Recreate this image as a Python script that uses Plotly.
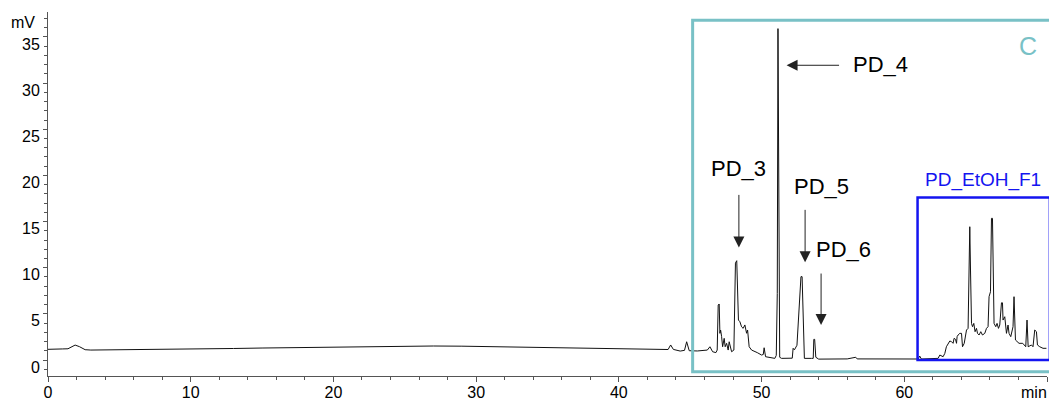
import plotly.graph_objects as go

# ---- data ----
time_min = [
    0.0, 0.5, 1.0, 1.4, 1.7, 1.9, 2.2, 2.6, 3.0, 5.0, 7.0, 9.0, 11.0, 13.0, 15.0,
    17.0, 19.0, 21.0, 23.0, 25.0, 27.0, 29.0, 31.0, 33.0, 35.0, 37.0, 39.0, 41.0,
    42.5, 43.45, 43.63, 43.82, 44.3, 44.6, 44.75, 44.93, 45.5, 46.2, 46.38, 46.57,
    46.8, 46.89, 46.96, 47.03, 47.08, 47.13, 47.2, 47.27, 47.38, 47.45, 47.55,
    47.66, 47.73, 47.9, 48.06, 48.1, 48.17, 48.26, 48.33, 48.38, 48.48, 48.6,
    48.71, 48.83, 48.95, 49.02, 49.13, 49.3, 49.7, 50.0, 50.12, 50.18, 50.28,
    50.6, 50.93, 51.03, 51.05, 51.1, 51.15, 51.17, 51.22, 51.27, 51.4, 52.0,
    52.15, 52.21, 52.3, 52.48, 52.58, 52.7, 52.76, 52.84, 52.89, 52.94, 53.0,
    53.5, 53.62, 53.66, 53.72, 53.8, 54.0, 56.0, 56.6, 56.7, 58.5, 60.97, 61.08,
    61.2, 62.37, 62.49, 62.72, 62.84, 62.95, 63.07, 63.19, 63.31, 63.42, 63.49,
    63.59, 63.66, 63.70, 63.77, 63.89, 64.01, 64.08, 64.2, 64.36, 64.47, 64.54,
    64.59, 64.64, 64.71, 64.78, 64.87, 64.96, 65.06, 65.13, 65.24, 65.36, 65.48,
    65.64, 65.76, 65.87, 65.94, 66.04, 66.11, 66.18, 66.22, 66.29, 66.41, 66.50,
    66.60, 66.69, 66.81, 66.88, 66.92, 67.04, 67.16, 67.27, 67.34, 67.46, 67.62,
    67.69, 67.79, 67.90, 68.04, 68.3, 68.44, 68.51, 68.60, 68.68, 68.91, 69.02,
    69.14, 69.26, 69.33, 69.49, 69.72, 69.96,
]
signal_mv = [
    1.16, 1.14, 1.2, 1.22, 1.45, 1.62, 1.45, 1.12, 1.08, 1.1, 1.12, 1.15, 1.2, 1.25, 1.3,
    1.35, 1.4, 1.45, 1.5, 1.52, 1.52, 1.5, 1.46, 1.4, 1.34, 1.28, 1.22, 1.18,
    1.15, 1.14, 1.63, 1.15, 0.97, 1.05, 1.98, 1.01, 0.98, 1.08, 1.44, 0.9,
    0.8, 1.08, 5.96, 6.07, 2.89, 3.25, 2.53, 1.44, 2.35, 1.44, 1.81,
    1.08, 1.98, 0.9, 1.08, 4.5, 10.5, 10.76, 7.6, 4.33, 4.15, 3.6,
    3.43, 3.8, 2.9, 3.25, 1.44, 1.08, 0.8, 0.54, 0.6, 1.33, 0.36,
    0.25, 0.18, 0.5, 6.0, 7.2, 35.9, 29.4, 3.0, 0.3, 0.18, 0.18,
    0.2, 1.27, 1.1, 1.6, 4.3, 7.9, 9.03, 9.03, 6.5, 2.89, 0.18,
    0.18, 0.18, 2.24, 2.24, 0.3, 0.1, 0.12, 0.3, 0.12, 0.12, 0.11, 0.43,
    0.11, 0.18, 0.54, 0.36, 0.72, 1.44, 1.81, 2.06, 1.99, 1.81, 2.35,
    2.24, 1.81, 2.53, 2.71, 2.89, 2.89, 1.44, 1.81, 3.25, 3.43, 12.28,
    14.44, 9.75, 3.97, 3.61, 3.97, 3.07, 3.43, 2.89, 2.71, 3.07, 2.71,
    2.89, 3.43, 3.61, 6.86, 7.4, 15.35, 15.35, 9.39, 3.97, 3.61, 3.97,
    3.43, 3.79, 6.2, 6.2, 4.33, 4.69, 2.89, 3.79, 2.89, 2.53, 3.61,
    6.86, 2.17, 1.99, 1.81, 1.81, 1.63, 1.44, 4.33, 1.44, 1.63, 1.44,
    3.25, 3.07, 1.63, 1.44, 1.27, 1.27,
]

x_tick_vals = [0, 10, 20, 30, 40, 50, 60, 70]
x_tick_text = ["0", "10", "20", "30", "40", "50", "60", ""]
x_unit_label = "min"
y_tick_vals = [0, 5, 10, 15, 20, 25, 30, 35]

peak_labels = ["PD_3", "PD_4", "PD_5", "PD_6"]
peak_label_pos = [(48.36, 20.8), (58.33, 32.0), (54.19, 18.8), (55.73, 12.0)]
arrow_tips = [(48.41, 12.2), (51.75, 31.93), (53.05, 10.58), (54.17, 3.79)]
arrow_offsets = [(0, -54), (54, 0), (0, -54), (0, -53)]

FONT = "Arial, Liberation Sans, sans-serif"
AXIS_COLOR = "#555555"
TEAL = "#79c1c6"
BLUE = "#1414f0"

fig = go.Figure()
fig.add_trace(go.Scatter(
    x=time_min, y=signal_mv, mode="lines",
    line=dict(color="#111111", width=1),
    hoverinfo="skip", showlegend=False,
))

shapes = [
    # teal region box "C"
    dict(type="rect", xref="paper", yref="paper",
         x0=45.17 / 70, x1=70.42 / 70, y0=0.0118, y1=0.9774,
         line=dict(color=TEAL, width=3), fillcolor="rgba(0,0,0,0)", layer="above"),
    # blue fraction box
    dict(type="rect", xref="paper", yref="paper",
         x0=60.93 / 70, x1=70.2 / 70,
         y0=(0.0 + 1.73) / 39.43, y1=(17.6 + 1.73) / 39.43,
         line=dict(color=BLUE, width=2.5), fillcolor="rgba(0,0,0,0)", layer="above"),
]

annotations = []
for (tx, ty), (ox, oy) in zip(arrow_tips, arrow_offsets):
    annotations.append(dict(
        x=tx, y=ty, xref="x", yref="y", ax=ox, ay=oy, axref="pixel", ayref="pixel",
        text="", showarrow=True, arrowhead=2, arrowsize=2.2, arrowwidth=1,
        arrowcolor="#222222", standoff=0, startstandoff=0,
    ))
for lab, (lx, ly) in zip(peak_labels, peak_label_pos):
    annotations.append(dict(
        x=lx, y=ly, xref="x", yref="y", text=lab, showarrow=False,
        xanchor="center", yanchor="middle",
        font=dict(family=FONT, size=22, color="#000000"),
    ))
annotations.append(dict(
    x=65.55, y=19.47, xref="x", yref="y", text="PD_EtOH_F1", showarrow=False,
    xanchor="center", yanchor="middle", font=dict(family=FONT, size=19, color=BLUE),
))
annotations.append(dict(
    x=68.7, y=34.0, xref="x", yref="y", text="C", showarrow=False,
    xanchor="center", yanchor="middle", font=dict(family=FONT, size=25, color=TEAL),
))
annotations.append(dict(
    x=0, y=36.6, xref="paper", yref="y", text="mV", showarrow=False,
    xanchor="center", yanchor="middle", xshift=-25,
    font=dict(family=FONT, size=16, color="#000000"),
))
annotations.append(dict(
    x=70, y=0, xref="x", yref="paper", text=x_unit_label, showarrow=False,
    xanchor="right", yanchor="middle", xshift=2, yshift=-16,
    font=dict(family=FONT, size=16, color="#000000"),
))

# The page body has an 8px margin, so the figure is 8px smaller and margins are offset.
fig.update_layout(
    width=1049, height=393,
    margin=dict(l=40, r=10, t=4, b=25, autoexpand=False),
    paper_bgcolor="white", plot_bgcolor="white",
    shapes=shapes, annotations=annotations,
    font=dict(family=FONT, size=16, color="#000000"),
    xaxis=dict(
        range=[0, 70], tickmode="array", tickvals=x_tick_vals, ticktext=x_tick_text,
        showgrid=False, zeroline=False, showline=True, linecolor=AXIS_COLOR, linewidth=1,
        ticks="outside", ticklen=5, tickcolor=AXIS_COLOR, tickwidth=1, automargin=False,
        tickfont=dict(family=FONT, size=16, color="#000000"),
        ticklabeloverflow="allow", ticklabelstandoff=-3,
        minor=dict(dtick=2, tick0=0, ticks="outside", ticklen=3, tickcolor=AXIS_COLOR, showgrid=False),
    ),
    yaxis=dict(
        range=[-1.73, 37.7], tickmode="array", tickvals=y_tick_vals,
        showgrid=False, zeroline=False, showline=True, linecolor=AXIS_COLOR, linewidth=1,
        ticks="outside", ticklen=4, tickcolor=AXIS_COLOR, tickwidth=1, automargin=False,
        tickfont=dict(family=FONT, size=16, color="#000000"),
        ticklabelshift=7,
        minor=dict(dtick=1, tick0=0, ticks="outside", ticklen=3, tickcolor=AXIS_COLOR, showgrid=False),
    ),
)

fig.write_html("out.html")
